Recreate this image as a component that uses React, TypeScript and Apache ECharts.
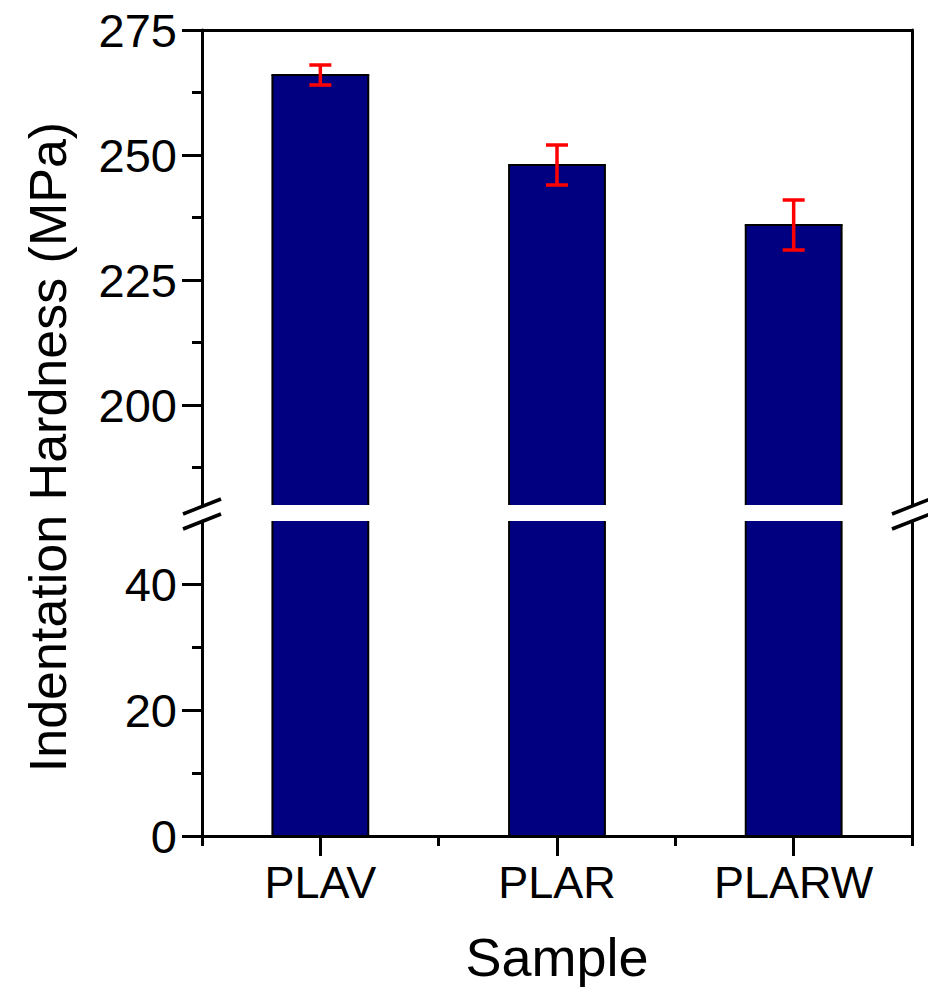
import React, { useEffect, useRef } from 'react';
import * as echarts from 'echarts';

const categories = ['PLAV', 'PLAR', 'PLARW'];
const hardness = [266, 248, 236];
const errors = [2, 4, 5];
const upperRange = [180, 275];
const lowerRange = [0, 50];
const upperMajorTicks = [200, 225, 250, 275];
const upperMinorTicks = [187.5, 212.5, 237.5, 262.5];
const lowerMajorTicks = [0, 20, 40];
const lowerMinorTicks = [10, 30];
const yTitle = 'Indentation Hardness (MPa)';
const xTitle = 'Sample';

const FONT = "'Liberation Sans', Arial, sans-serif";
const AX = { color: '#000', width: 3 };
const BAR_FILL = '#000080';

function makeBarRender(lo: number, hi: number) {
  return (params: any, api: any) => {
    const idx = api.value(0);
    const val = api.value(1);
    const band = api.size([1, 0])[0];
    const bw = band * 0.405;
    const top = Math.min(val, hi);
    const pBase = api.coord([idx, lo]);
    const pTop = api.coord([idx, top]);
    const x0 = pBase[0] - bw / 2;
    const x1 = pBase[0] + bw / 2;
    const stroke = { stroke: '#000', lineWidth: 2 };
    const children: any[] = [
      {
        type: 'rect',
        shape: { x: x0, y: pTop[1], width: bw, height: pBase[1] - pTop[1] },
        style: { fill: BAR_FILL },
      },
      { type: 'line', shape: { x1: x0, y1: pTop[1], x2: x0, y2: pBase[1] }, style: stroke },
      { type: 'line', shape: { x1: x1, y1: pTop[1], x2: x1, y2: pBase[1] }, style: stroke },
    ];
    if (val <= hi) {
      children.push({ type: 'line', shape: { x1: x0 - 1, y1: pTop[1], x2: x1 + 1, y2: pTop[1] }, style: stroke });
    }
    return { type: 'group', children };
  };
}

function errRender(params: any, api: any) {
  const idx = api.value(0);
  const val = api.value(1);
  const err = api.value(2);
  const band = api.size([1, 0])[0];
  const cw = band * 0.093;
  const pHi = api.coord([idx, val + err]);
  const pLo = api.coord([idx, val - err]);
  const st = { stroke: '#ff0000', lineWidth: 3.5 };
  return {
    type: 'group',
    children: [
      { type: 'line', shape: { x1: pHi[0], y1: pHi[1], x2: pLo[0], y2: pLo[1] }, style: st },
      { type: 'line', shape: { x1: pHi[0] - cw / 2, y1: pHi[1], x2: pHi[0] + cw / 2, y2: pHi[1] }, style: st },
      { type: 'line', shape: { x1: pLo[0] - cw / 2, y1: pLo[1], x2: pLo[0] + cw / 2, y2: pLo[1] }, style: st },
    ],
  };
}

export default function App() {
  const ref = useRef<HTMLDivElement>(null);
  useEffect(() => {
    if (!ref.current) return;
    const chart = echarts.init(ref.current, null, { renderer: 'svg' });
    const barData = hardness.map((v, i) => [i, v]);
    const errData = hardness.map((v, i) => [i, v, errors[i]]);
    const labelStyle = { color: '#000', fontSize: 45, fontFamily: FONT };
    const yLabelStyle = { color: '#000', fontSize: 47, fontFamily: FONT };

    const yPair = (grid: number, range: number[], major: number[], minor: number[]) => [
      {
        type: 'value', gridIndex: grid, position: 'left', min: range[0], max: range[1],
        axisLine: { show: true, lineStyle: AX },
        axisTick: { show: true, length: 20, lineStyle: AX, customValues: major },
        axisLabel: { ...yLabelStyle, margin: 25, customValues: major },
        splitLine: { show: false },
        z: 5,
      },
      {
        type: 'value', gridIndex: grid, position: 'left', min: range[0], max: range[1],
        axisLine: { show: false },
        axisTick: { show: true, length: 10, lineStyle: AX, customValues: minor },
        axisLabel: { show: false },
        splitLine: { show: false },
        z: 5,
      },
      {
        type: 'value', gridIndex: grid, position: 'right', min: range[0], max: range[1],
        axisLine: { show: true, lineStyle: AX },
        axisTick: { show: false },
        axisLabel: { show: false },
        splitLine: { show: false },
        z: 5,
      },
    ];

    chart.setOption({
      animation: false,
      backgroundColor: '#fff',
      grid: [
        { left: 202, right: 16, top: 30, height: 475, containLabel: false, outerBoundsMode: 'none' },
        { left: 202, right: 16, top: 521, height: 315, containLabel: false, outerBoundsMode: 'none' },
      ],
      xAxis: [
        {
          type: 'category', gridIndex: 0, data: categories, position: 'top',
          axisLine: { show: true, lineStyle: AX }, axisTick: { show: false }, axisLabel: { show: false }, z: 5,
        },
        {
          type: 'category', gridIndex: 1, data: categories, position: 'bottom',
          axisLine: { show: true, lineStyle: AX },
          axisTick: { show: true, alignWithLabel: true, length: 20, lineStyle: AX },
          axisLabel: { ...labelStyle, margin: 24 },
          name: xTitle, nameLocation: 'middle', nameGap: 94,
          nameTextStyle: { color: '#000', fontSize: 54, fontFamily: FONT },
          z: 5,
        },
        {
          type: 'category', gridIndex: 1, data: categories, position: 'bottom',
          axisLine: { show: false },
          axisTick: { show: true, alignWithLabel: false, length: 10, lineStyle: AX },
          axisLabel: { show: false }, z: 5,
        },
      ],
      yAxis: [
        ...yPair(0, upperRange, upperMajorTicks, upperMinorTicks),
        ...yPair(1, lowerRange, lowerMajorTicks, lowerMinorTicks),
      ],
      series: [
        { type: 'custom', xAxisIndex: 0, yAxisIndex: 0, data: barData, renderItem: makeBarRender(upperRange[0], upperRange[1]), clip: false, z: 2 },
        { type: 'custom', xAxisIndex: 1, yAxisIndex: 3, data: barData, renderItem: makeBarRender(lowerRange[0], lowerRange[1]), clip: false, z: 2 },
        { type: 'custom', xAxisIndex: 0, yAxisIndex: 0, data: errData, renderItem: errRender, clip: false, z: 3 },
      ],
      graphic: [
        { type: 'text', x: 48, y: 447, rotation: Math.PI / 2,
          style: { text: yTitle, fill: '#000', font: `52px ${FONT}`, align: 'center', verticalAlign: 'middle' } },
        { type: 'line', shape: { x1: 183, y1: 514, x2: 221, y2: 499 }, style: { stroke: '#000', lineWidth: 3.5 } },
        { type: 'line', shape: { x1: 183, y1: 529, x2: 221, y2: 514 }, style: { stroke: '#000', lineWidth: 3.5 } },
        { type: 'line', shape: { x1: 892, y1: 514, x2: 930, y2: 499 }, style: { stroke: '#000', lineWidth: 3.5 } },
        { type: 'line', shape: { x1: 892, y1: 529, x2: 930, y2: 514 }, style: { stroke: '#000', lineWidth: 3.5 } },
      ],
    });
    return () => chart.dispose();
  }, []);
  return <div ref={ref} style={{ position: 'fixed', left: 0, top: 0, width: 928, height: 988 }} />;
}
